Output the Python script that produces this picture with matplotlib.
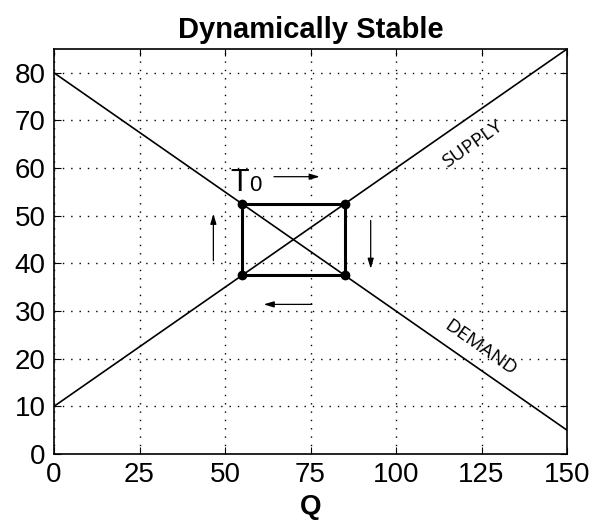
import numpy as np
import matplotlib.pyplot as plt

plt.rcParams['font.family'] = ['Liberation Sans', 'DejaVu Sans']

# supply / demand lines (end points)
q_line = [0, 150]
supply = [10, 85]
demand = [80, 5]

# cobweb cycle corners
cycle_q = [55, 85, 85, 55, 55]
cycle_p = [52.5, 52.5, 37.5, 37.5, 52.5]

x_ticks = [0, 25, 50, 75, 100, 125, 150]
y_ticks = [0, 10, 20, 30, 40, 50, 60, 70, 80]

fig = plt.figure(figsize=(5.94, 5.29), dpi=100)
ax = fig.add_axes([54 / 594, 1 - 454 / 529, 513 / 594, 405 / 529])

ax.plot(q_line, supply, color='black', lw=1.2)
ax.plot(q_line, demand, color='black', lw=1.2)
ax.plot(cycle_q, cycle_p, color='black', lw=2.2)
ax.plot(cycle_q[:4], cycle_p[:4], 'o', color='black', ms=6)

ax.set_xlim(0, 150)
ax.set_ylim(0, 85)
ax.set_xticks(x_ticks)
ax.set_yticks(y_ticks)
ax.tick_params(direction='in', top=True, right=True, labelsize=20, length=5, pad=6)
ax.grid(True, color='black', linestyle=(0, (1, 5)), lw=1.0)
for s in ax.spines.values():
    s.set_linewidth(1.2)

ax.set_title('Dynamically Stable', fontsize=21, fontweight='bold', pad=8)
ax.set_xlabel('Q', fontsize=20, fontweight='bold', labelpad=4)

# labels on the curves
ax.text(122.5, 65.0, 'SUPPLY', rotation=35, ha='center', va='center',
        fontsize=14, family='Open Sans')
ax.text(124.5, 22.2, 'DEMAND', rotation=-35, ha='center', va='center',
        fontsize=14, family='Open Sans')

ax.text(51.6, 55.3, 'T', fontsize=22, ha='left', va='baseline')
ax.text(57.0, 55.3, '0', fontsize=16, ha='left', va='baseline')

arrow = dict(arrowstyle='-|>,head_length=0.6,head_width=0.18', color='black', lw=0.9)
ax.annotate('', xy=(78.5, 58.2), xytext=(63.5, 58.2), arrowprops=arrow)
ax.annotate('', xy=(92.6, 38.3), xytext=(92.6, 49.6), arrowprops=arrow)
ax.annotate('', xy=(60.5, 31.4), xytext=(76.2, 31.4), arrowprops=arrow)
ax.annotate('', xy=(46.6, 51.0), xytext=(46.6, 40.0), arrowprops=arrow)

fig.savefig('out.png', dpi=100)
